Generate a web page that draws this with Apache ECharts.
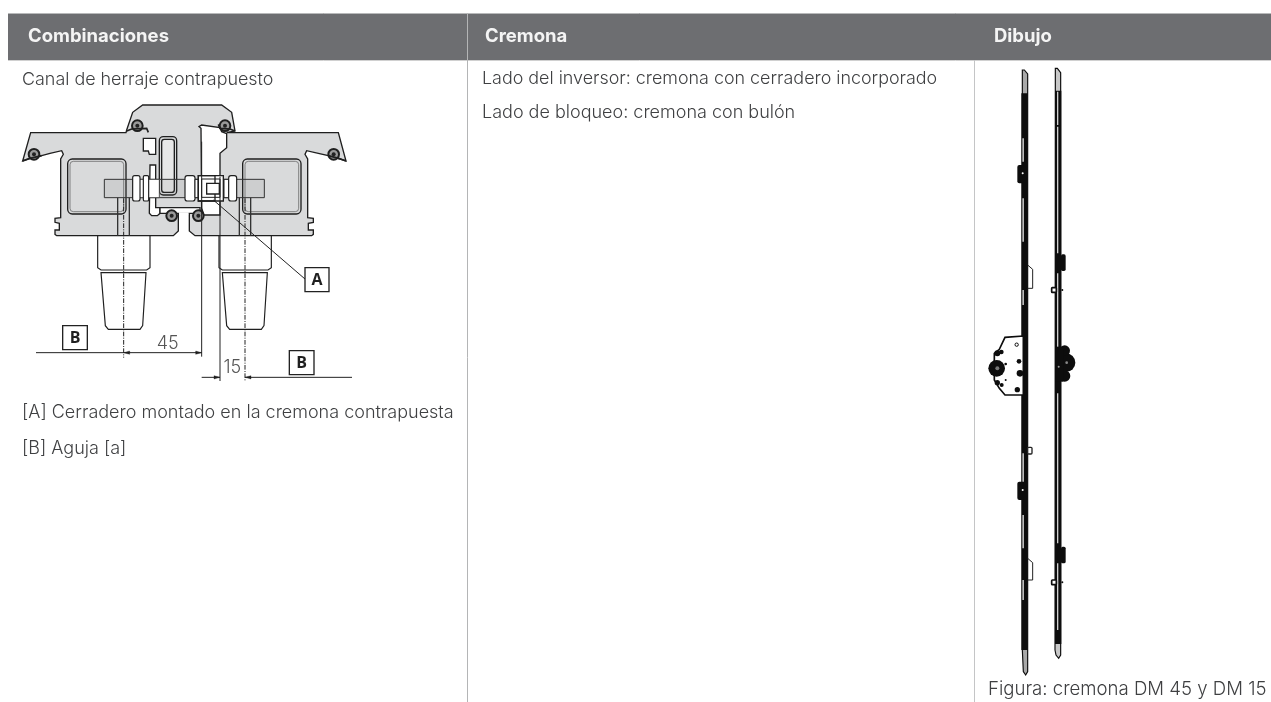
<!DOCTYPE html>
<html><head><meta charset="utf-8">
<style>html,body{margin:0;padding:0;background:#fff}#c{width:1271px;height:702px}</style>
<script src="https://cdn.jsdelivr.net/npm/echarts@6/dist/echarts.min.js"></script>
</head><body><div id="c"></div>
<script>
const headers = ['Combinaciones', 'Cremona', 'Dibujo'];
const col1Texts = ['Canal de herraje contrapuesto', '[A] Cerradero montado en la cremona contrapuesta', '[B] Aguja [a]'];
const col2Texts = ['Lado del inversor: cremona con cerradero incorporado', 'Lado de bloqueo: cremona con bulón'];
const col3Texts = ['Figura: cremona DM 45 y DM 15'];
const dimLabels = ['45', '15'];
const calloutLabels = ['A', 'B', 'B'];

const FONT = 'Inter, "Liberation Sans", sans-serif';
const DARK = '#1f1f1f', GRAY = '#d9dadb', BODY = '#3f4042';

const poly = (pts, fill, stroke, lw) => ({type:'polygon', shape:{points:pts}, style:{fill:fill||'none', stroke:stroke||DARK, lineWidth:lw===undefined?4:lw}});
const pline = (pts, stroke, lw, dash) => ({type:'polyline', shape:{points:pts}, style:{fill:'none', stroke:stroke||DARK, lineWidth:lw||3.5, lineDash:dash}});
const rect = (x,y,w,h,fill,stroke,lw,r) => ({type:'rect', shape:{x,y,width:w,height:h,r:r||0}, style:{fill:fill||'none', stroke:stroke||'none', lineWidth:lw===undefined?4:lw}});
const circ = (cx,cy,r,fill,stroke,lw) => ({type:'circle', shape:{cx,cy,r}, style:{fill:fill||'none', stroke:stroke||'none', lineWidth:lw||0}});
const txt = (x,y,text,size,color,weight,align) => ({type:'text', x, y, style:{text, fill:color||BODY, font:(weight||'300')+' '+size+'px '+FONT, textAlign:align||'left', textVerticalAlign:'middle'}});
const arrow = (x,y,dir) => poly([[x,y],[x+dir*18,y-5],[x+dir*18,y+5]], DARK, DARK, 1);

/* -------- Profile section, local coordinates are 3x page pixels -------- */
const outline = [[92,143],[378,143],[380,135],[398,82],[428,60],[665,60],[695,82],[705,138],[680,143],[1015,143],[1038,228],[1020,222],[985,212],[955,205],[920,197],[915,208],[923,222],[923,398],[940,400],[940,412],[925,415],[925,435],[940,435],[940,448],[935,452],[585,452],[568,438],[568,385],[535,385],[535,438],[520,452],[170,452],[165,448],[165,435],[178,435],[178,415],[165,412],[165,400],[182,398],[182,222],[190,208],[185,197],[150,205],[125,212],[85,222],[68,228]];
const profile = [
  poly(outline, GRAY, DARK, 4),
  poly([[430,160],[467,160],[467,208],[448,208],[445,198],[430,198]], '#fff'),
  poly([[450,240],[467,240],[467,368],[480,368],[480,385],[472,392],[455,392],[448,385]], '#fff'),
  poly([[597,125],[605,120],[660,128],[665,140],[680,146],[680,188],[660,205],[660,390],[612,390],[605,370],[603,130]], '#fff'),
  poly([[480,368],[600,368],[600,385],[480,385]], '#fff'),
  rect(537,382,29,6,'#fff','none',0),
  rect(203,222,175,165,'none',DARK,4,14), rect(210,229,161,151,'none','#555',2,10),
  rect(728,222,175,165,'none',DARK,4,14), rect(735,229,161,151,'none','#555',2,10),
  rect(478,155,52,175,GRAY,DARK,4,12), rect(485,163,38,159,'#e7e7e7',DARK,4,8),
  rect(313,283,480,55,'rgba(110,110,110,0.10)','#333',3),
  rect(398,283,80,55,'#fff','#333',2.5), rect(398,272,22,76,'#fff',DARK,3.5,6), rect(430,272,16,76,'#fff',DARK,3.5,4),
  rect(555,272,30,76,'#fff',DARK,3.5,7), rect(585,283,10,55,'#fff',DARK,3),
  rect(672,283,14,55,'#fff',DARK,3), rect(686,272,24,76,'#fff',DARK,3.5,7),
  rect(595,272,75,76,'#fff',DARK,4), rect(595,272,50,76,'none',DARK,4), rect(605,282,55,55,'none',DARK,3), rect(620,295,38,32,'#fff',DARK,4),
  pline([[353,338],[353,452]],'#333',4), pline([[388,338],[388,452]],'#333',4),
  pline([[718,338],[718,452]],'#333',4), pline([[752,338],[752,452]],'#333',4),
  pline([[293,452],[293,548],[303,555],[440,555],[450,548],[450,452]],DARK,3.5),
  pline([[657,452],[657,548],[667,555],[804,555],[814,548],[814,452]],DARK,3.5),
  poly([[303,563],[438,563],[428,722],[420,733],[325,733],[316,722]],'#fff',DARK,3.5),
  poly([[667,563],[802,563],[792,722],[784,733],[689,733],[680,722]],'#fff',DARK,3.5),
  ...[[102,208],[412,122],[675,122],[1001,208],[515,392],[595,392]].flatMap(p => [
    circ(p[0],p[1],16,'#999',DARK,6), circ(p[0],p[1],6,'#222')]),
  pline([[380,138],[395,132],[440,130],[445,142]],DARK,5), pline([[705,138],[690,132],[660,130],[655,118]],DARK,5),
  pline([[68,228],[90,220],[125,212]],DARK,5), pline([[1038,228],[1016,220],[985,212]],DARK,5),
  pline([[605,170],[605,815]],'#222',3),
  pline([[660,275],[660,888]],'#222',3),
  pline([[371,340],[371,818]],'#222',3,[14,4,3,4]),
  pline([[735,340],[735,888]],'#222',3,[14,4,3,4]),
  pline([[108,803],[605,803]],'#222',3), arrow(371,803,1), arrow(605,803,-1),
  pline([[605,877],[660,877]],'#222',3), arrow(660,877,-1),
  pline([[735,877],[1056,877]],'#222',3), arrow(735,877,1),
  pline([[640,345],[915,582]],'#222',3),
  rect(188,722,74,72,'#fff','#222',4), rect(868,797,74,72,'#fff','#222',4), rect(915,548,72,72,'#fff','#222',4),
  {type:'text', x:951, y:586, style:{text:calloutLabels[0], fill:DARK, font:'bold 48px "Open Sans", '+FONT, textAlign:'center', textVerticalAlign:'middle'}},
  {type:'text', x:225, y:760, style:{text:calloutLabels[1], fill:DARK, font:'bold 48px "Open Sans", '+FONT, textAlign:'center', textVerticalAlign:'middle'}},
  {type:'text', x:905, y:835, style:{text:calloutLabels[2], fill:DARK, font:'bold 48px "Open Sans", '+FONT, textAlign:'center', textVerticalAlign:'middle'}},
  {type:'text', x:503, y:776, style:{text:dimLabels[0], fill:'#555', font:'300 54px Inter, sans-serif', textAlign:'center', textVerticalAlign:'middle'}},
  {type:'text', x:697, y:848, style:{text:dimLabels[1], fill:'#555', font:'300 54px Inter, sans-serif', textAlign:'center', textVerticalAlign:'middle'}}
];

/* -------- Hardware elevation, local coordinates are 3x page pixels -------- */
const BK = '#0d0d0d';
const barL = [
  poly([[187,30],[193,30],[203,42],[203,1835],[197,1845],[190,1835],[187,1770]],'#a8a8a8',BK,3.5),
  rect(184,100,19,1670,BK),
  rect(187,235,5,70,'#bdbdbd'), rect(187,415,5,130,'#bdbdbd'), rect(187,690,5,45,'#bdbdbd'), rect(187,1180,5,85,'#bdbdbd'), rect(187,1365,5,100,'#bdbdbd'), rect(187,1560,5,60,'#bdbdbd'),
  rect(172,315,20,55,BK,'none',0,6), circ(188,340,3,'#fff'),
  rect(172,1265,20,55,BK,'none',0,6), circ(188,1290,3,'#fff'),
  pline([[203,615],[218,628],[218,685],[203,685]],'#222',3),
  pline([[203,1495],[218,1508],[218,1560],[203,1560]],'#222',3),
  rect(203,1162,13,20,'#fff','#222',4,3),
  poly([[190,828],[135,832],[118,868],[103,880],[103,960],[118,985],[135,1005],[190,1005]],'#fff',BK,5),
  circ(110,925,25,BK), circ(112,925,6,'#777'),
  circ(112,880,9,BK), circ(124,876,7,BK), circ(112,968,8,BK), circ(125,975,6,BK),
  circ(170,854,5,'#fff',BK,3), circ(137,912,4,BK), circ(177,904,7,BK), circ(180,940,10,BK), circ(172,989,8,BK),
  circ(137,960,3,BK), circ(192,888,3,BK)
];
const barR = [
  poly([[286,25],[292,25],[302,38],[302,1785],[296,1795],[288,1785],[285,1770]],'#c8c8c8',BK,3.5),
  rect(285,92,19,1660,BK),
  rect(291,95,4,100,'#d0d0d0'), rect(291,200,4,380,'#d0d0d0'), rect(291,640,4,230,'#d0d0d0'), rect(291,1000,4,450,'#d0d0d0'), rect(291,1510,4,200,'#d0d0d0'),
  rect(303,583,14,50,BK,'none',0,5),
  rect(303,1460,14,50,BK,'none',0,5),
  rect(275,683,14,14,'#fff',BK,5,2), circ(307,690,3,BK),
  rect(275,1560,14,14,'#fff',BK,5,2), circ(307,1567,3,BK),
  circ(318,908,28,BK), circ(314,872,16,BK), circ(314,948,17,BK), rect(285,860,25,105,BK), circ(320,908,4,'#888'), circ(296,920,3,'#999')
];

const elements = [
  rect(8,13,1263,47,'#6d6e71'),
  {type:'line', shape:{x1:8,y1:13.5,x2:1271,y2:13.5}, style:{stroke:'#b8b9ba',lineWidth:1}},
  {type:'line', shape:{x1:8,y1:60.5,x2:1271,y2:60.5}, style:{stroke:'#d0d0d0',lineWidth:1}},
  {type:'line', shape:{x1:467.5,y1:13,x2:467.5,y2:702}, style:{stroke:'#b4b5b6',lineWidth:1}},
  {type:'line', shape:{x1:974.5,y1:60,x2:974.5,y2:702}, style:{stroke:'#c4c5c6',lineWidth:1}},
  txt(28,36,headers[0],18.5,'#f4f4f4','bold'),
  txt(485,36,headers[1],18.5,'#f4f4f4','bold'),
  txt(994,36,headers[2],18.5,'#f4f4f4','bold'),
  txt(22,80,col1Texts[0],17.9),
  txt(22,413,col1Texts[1],18),
  txt(22,449,col1Texts[2],18),
  txt(482,79,col2Texts[0],17.9),
  txt(482,113,col2Texts[1],18),
  txt(988,689,col3Texts[0],18.6),
  {type:'group', x:0, y:85, scaleX:1/3, scaleY:1/3, children:profile},
  {type:'group', x:960, y:60, scaleX:1/3, scaleY:1/3, children:[...barL, ...barR]}
];

const chart = echarts.init(document.getElementById('c'), null, {renderer:'canvas'});
chart.setOption({backgroundColor:'#fff', animation:false, graphic:{elements}});
</script></body></html>
